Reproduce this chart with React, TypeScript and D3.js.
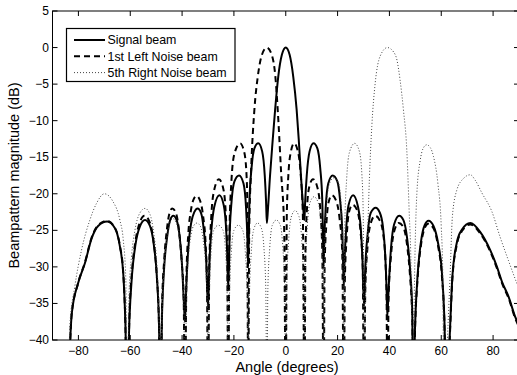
import React from 'react';
import * as d3 from 'd3';

// --- DATA (angle in degrees, magnitude in dB) ---
type Pt = [number, number];

const signalBeam: Pt[] = [
  [-83.6, -44], [-82.6, -36.5], [-80.1, -32.2], [-77.5, -29.5], [-74.9, -26.1], [-72.4, -24.4], [-68.9, -23.8], [-65.9, -24.7], [-64.0, -27.2], [-62.7, -30.9], [-61.9, -37.5],
  [-61.2, -48],
  [-60.3, -37], [-59.3, -31], [-58.0, -27], [-56.3, -24.5], [-54.3, -23.6], [-52.4, -24.4], [-50.9, -27], [-49.7, -31.5], [-48.9, -38],
  [-48.4, -48],
  [-47.7, -36], [-46.9, -30], [-45.8, -26], [-44.6, -23.6], [-43.4, -23.0], [-42.0, -23.7], [-40.9, -26], [-39.9, -30.5], [-39.3, -35],
  [-38.9, -37.5],
  [-38.3, -32], [-37.5, -27], [-36.5, -24], [-35.3, -22.5], [-34.0, -22.0], [-32.7, -22.6], [-31.6, -25], [-30.7, -29],
  [-30.0, -35.5],
  [-29.4, -29], [-28.7, -25], [-27.6, -21.8], [-25.6, -20.2], [-23.9, -21.6], [-22.9, -25.5], [-22.5, -29],
  [-22.2, -33],
  [-21.6, -25], [-20.9, -21], [-19.8, -18.3], [-18.0, -17.5], [-16.3, -18.6], [-15.3, -22], [-14.8, -26],
  [-14.5, -30],
  [-14.0, -21], [-13.2, -16.5], [-12.1, -13.8], [-10.6, -13.1], [-9.1, -14.2], [-8.1, -17.5], [-7.6, -21],
  [-7.3, -24],
  [-6.9, -22.3], [-6.1, -17.7], [-5.0, -12.5], [-4.1, -8.5], [-2.9, -4], [-1.5, -1], [0, 0], [1.5, -1], [2.9, -4], [4.2, -8.5], [5.0, -12.5], [5.9, -17.7], [6.8, -22.3],
  [7.2, -23.6],
  [7.5, -21], [8.1, -17.5], [9.2, -14.2], [10.7, -13.1], [12.2, -13.8], [13.3, -16.5], [14.1, -21],
  [14.6, -30],
  [14.9, -26], [15.4, -22], [16.4, -18.6], [18.1, -17.5], [19.9, -18.3], [21.0, -21], [21.8, -25],
  [22.4, -32.7],
  [22.7, -29], [23.2, -25.5], [24.2, -21.6], [26.0, -20.2], [27.9, -21.8], [29.0, -25], [29.6, -29],
  [30.2, -35.4],
  [30.7, -30], [31.6, -25.5], [32.8, -22.6], [34.7, -21.9], [36.2, -22.5], [37.5, -24.5], [38.4, -28.5], [38.9, -33],
  [39.2, -36.8],
  [39.7, -33], [40.6, -27.5], [41.8, -24.2], [43.8, -23.0], [45.4, -23.6], [46.8, -26], [48.0, -30.5], [48.8, -36],
  [49.2, -48],
  [49.9, -38], [50.9, -31], [52.2, -26.5], [53.6, -24.3], [55.1, -23.7], [57.0, -24.4], [58.8, -26.8], [60.2, -30.5], [61.2, -37],
  [62.0, -48],
  [63.2, -40], [64.3, -31.3], [66.0, -26.7], [68.0, -24.9], [71.2, -24.0], [75.0, -25.2], [78.9, -27.7], [81.5, -30], [83.4, -32], [86.0, -34.1], [88.5, -36.8], [90, -38],
];

const leftNoiseBeam: Pt[] = [
  [-83.6, -44], [-82.6, -36.5], [-80.1, -32.2], [-77.5, -29.4], [-74.9, -26.0], [-72.4, -24.3], [-69.0, -23.7], [-66.0, -24.6], [-64.0, -27.1], [-62.7, -30.8], [-61.9, -37.5],
  [-61.2, -50],
  [-60.3, -36.5], [-59.3, -30.5], [-58.0, -26.5], [-56.4, -24], [-54.5, -23.0], [-52.6, -23.8], [-51.0, -26.5], [-49.8, -31], [-48.9, -38],
  [-48.4, -50],
  [-47.7, -35], [-46.9, -29], [-45.9, -25], [-44.9, -22.7], [-43.8, -22.0], [-42.4, -22.6], [-41.2, -25], [-40.1, -29.5], [-39.4, -34],
  [-38.9, -50],
  [-38.3, -31], [-37.6, -25.5], [-36.6, -22.3], [-35.6, -20.8], [-34.4, -20.3], [-33.1, -20.9], [-31.9, -23], [-30.9, -27], [-30.4, -32],
  [-30.0, -50],
  [-29.5, -30], [-28.8, -23.5], [-27.8, -19.8], [-25.8, -18.0], [-24.1, -19.3], [-23.1, -23], [-22.6, -28],
  [-22.2, -50],
  [-21.7, -25], [-21.0, -18.5], [-19.8, -14.5], [-17.6, -13.1], [-15.9, -14.5], [-15.0, -18.5], [-14.8, -23],
  [-14.5, -50],
  [-14.1, -25], [-13.4, -17], [-12.1, -8.5], [-10.8, -4], [-9.2, -1], [-7.3, 0], [-5.4, -1], [-4.0, -4], [-3.1, -8.5], [-1.8, -17], [-0.6, -25],
  [0, -50],
  [0.4, -23], [1.0, -17.5], [2.0, -14.2], [3.2, -13.1], [4.7, -14.2], [5.8, -17.5], [6.6, -23],
  [7.2, -50],
  [7.6, -28], [8.2, -22], [9.1, -19], [10.5, -18.0], [12.1, -19], [13.3, -22], [14.1, -28],
  [14.6, -50],
  [15.0, -30], [15.7, -24], [16.5, -21.2], [17.8, -20.2], [19.5, -21], [20.8, -23.5], [21.8, -28],
  [22.4, -50],
  [22.8, -32], [23.5, -26], [24.4, -22.5], [25.8, -21.5], [27.6, -22.3], [28.8, -25], [29.7, -30],
  [30.2, -50],
  [30.7, -33], [31.5, -27.5], [32.8, -24], [34.5, -23.0], [36.2, -23.6], [37.6, -25.5], [38.5, -29.5], [38.9, -34],
  [39.2, -50],
  [39.7, -34], [40.6, -28.5], [41.8, -25.2], [43.6, -24.0], [45.3, -24.5], [46.8, -27], [48.0, -31.5], [48.8, -37],
  [49.2, -50],
  [49.9, -38.5], [50.9, -31.5], [52.2, -27], [53.6, -24.7], [55.0, -24.1], [57.0, -24.7], [58.8, -27.2], [60.2, -31], [61.2, -37.5],
  [62.0, -50],
  [63.2, -40.5], [64.3, -31.6], [66.0, -27], [68.0, -25.1], [71.2, -24.2], [75.0, -25.4], [78.9, -27.9], [81.5, -30.2], [83.4, -32.2], [86.0, -34.3], [88.5, -37], [90, -38.2],
];

const rightNoiseBeam: Pt[] = [
  [-83.7, -44], [-83.3, -38], [-81.4, -32.7], [-78.8, -27.7], [-75.6, -23.6], [-73.0, -21.3], [-70.0, -20.0], [-66.6, -21.1], [-64.0, -23.6], [-62.7, -26.3], [-61.7, -31.8],
  [-61.2, -50],
  [-60.5, -34], [-59.5, -28.5], [-58.2, -25], [-56.4, -22.7], [-54.3, -22.0], [-52.4, -22.8], [-50.9, -25.5], [-49.7, -30], [-48.9, -37],
  [-48.4, -50],
  [-47.7, -36], [-46.9, -30], [-45.8, -26], [-44.7, -24], [-43.6, -23.4], [-42.2, -24], [-41.0, -26.3], [-40.0, -30.5], [-39.3, -35.5],
  [-38.9, -50],
  [-38.3, -34], [-37.5, -28.5], [-36.5, -25.5], [-35.4, -24.3], [-34.3, -24.0], [-33.0, -24.4], [-31.8, -26.5], [-30.8, -30.5], [-30.3, -35],
  [-30.0, -50],
  [-29.5, -34], [-28.8, -28], [-27.8, -25], [-26.0, -24.3], [-24.2, -25], [-23.2, -28], [-22.6, -34],
  [-22.2, -50],
  [-21.7, -34], [-21.0, -28], [-20.0, -25], [-18.3, -24.3], [-16.6, -25], [-15.6, -28], [-14.9, -34],
  [-14.5, -50],
  [-14.0, -34], [-13.3, -28], [-12.3, -24.8], [-10.9, -24.0], [-9.4, -24.7], [-8.4, -27.5], [-7.7, -33],
  [-7.3, -50],
  [-6.9, -33], [-6.2, -27.5], [-5.2, -24.3], [-3.6, -23.6], [-2.1, -24.3], [-1.1, -27.5], [-0.4, -33],
  [0, -50],
  [0.4, -32], [1.1, -26.5], [2.1, -23.2], [3.6, -22.3], [5.1, -23.1], [6.1, -26], [6.8, -31.5],
  [7.2, -50],
  [7.6, -30], [8.3, -24.5], [9.3, -21.3], [10.9, -20.4], [12.5, -21.2], [13.5, -24], [14.2, -29.5],
  [14.6, -50],
  [15.0, -28], [15.7, -22], [16.7, -18.8], [18.6, -17.8], [20.4, -18.6], [21.4, -21.5], [22.0, -27],
  [22.4, -50],
  [22.8, -24], [23.5, -18], [24.6, -14.3], [26.6, -13.1], [28.4, -14.2], [29.4, -17.5], [29.9, -23],
  [30.3, -50],
  [30.6, -38], [31.5, -26.8], [32.3, -17.7], [33.2, -10.8], [34.5, -4.9], [36.4, -1.2], [39.2, 0], [41.6, -0.6], [42.9, -1.7], [44.1, -4.4], [45.4, -8.5], [46.7, -14], [47.6, -22.2], [48.4, -31.3],
  [48.8, -50],
  [49.4, -38], [50.0, -26], [50.6, -19.9], [51.9, -15.4], [53.0, -13.8], [54.4, -13.3], [55.8, -13.7], [57.0, -14.9], [58.7, -18.6], [60.0, -24.5], [60.6, -31.3],
  [61.0, -50],
  [62.6, -38], [63.4, -31.3], [64.3, -23.1], [66.0, -19.5], [68.6, -17.9], [71.2, -17.4], [73.2, -18.2], [75.7, -19.9], [79.5, -22.4], [82.7, -25.9], [85.9, -29.1], [88.9, -32], [90, -33],
];

const xTicks = [-80, -60, -40, -20, 0, 20, 40, 60, 80];
const yTicks = [-40, -35, -30, -25, -20, -15, -10, -5, 0, 5];

const legendLabels = ['Signal beam', '1st Left Noise beam', '5th Right Noise beam'];

const W = 517;
const H = 375;
const M = { left: 52.5, right: 519, top: 11, bottom: 340 };
const FONT = '"Liberation Sans", Arial, Helvetica, sans-serif';

const fmt = (v: number) => (v < 0 ? '\u2212' + Math.abs(v) : String(v));

export default function App() {
  const x = d3.scaleLinear().domain([-90, 90]).range([M.left, M.right]);
  const y = d3.scaleLinear().domain([-40, 5]).range([M.bottom, M.top]);

  const line = d3.line<Pt>()
    .x(d => x(d[0]))
    .y(d => y(d[1]))
    .curve(d3.curveMonotoneX);

  const series = [
    { data: signalBeam, stroke: '#000', width: 2, dash: undefined as string | undefined },
    { data: leftNoiseBeam, stroke: '#000', width: 2, dash: '6 4' },
    { data: rightNoiseBeam, stroke: '#444', width: 1, dash: '1 2' },
  ];

  const tick = 5;

  return (
    <svg width={W} height={H} style={{ position: 'absolute', left: 0, top: 0, background: '#fff' }} fontFamily={FONT}>
      <defs>
        <clipPath id="plot-clip">
          <rect x={M.left} y={M.top} width={M.right - M.left} height={M.bottom - M.top} />
        </clipPath>
      </defs>

      <rect x={0} y={0} width={W} height={H} fill="#fff" />

      {/* curves */}
      <g clipPath="url(#plot-clip)" fill="none" strokeLinejoin="round">
        {series.map((s, i) => (
          <path key={i} d={line(s.data) || ''} stroke={s.stroke} strokeWidth={s.width} strokeDasharray={s.dash} />
        ))}
      </g>

      {/* box + ticks */}
      <rect x={M.left} y={M.top} width={M.right - M.left} height={M.bottom - M.top} fill="none" stroke="#000" strokeWidth={1} />
      {xTicks.map(t => (
        <g key={'x' + t}>
          <line x1={x(t)} x2={x(t)} y1={M.bottom} y2={M.bottom - tick} stroke="#000" />
          <line x1={x(t)} x2={x(t)} y1={M.top} y2={M.top + tick} stroke="#000" />
          <text x={x(t)} y={354.5} textAnchor="middle" fontSize={12}>{fmt(t)}</text>
        </g>
      ))}
      {yTicks.map(t => (
        <g key={'y' + t}>
          <line x1={M.left} x2={M.left + tick} y1={y(t)} y2={y(t)} stroke="#000" />
          <line x1={M.right} x2={M.right - tick} y1={y(t)} y2={y(t)} stroke="#000" />
          <text x={49} y={y(t) + 4} textAnchor="end" fontSize={12}>{fmt(t)}</text>
        </g>
      ))}

      {/* axis labels */}
      <text x={287} y={372} textAnchor="middle" fontSize={14.5}>Angle (degrees)</text>
      <text transform={`translate(19,${(M.top + M.bottom) / 2}) rotate(-90)`} textAnchor="middle" fontSize={14.5}>
        Beampattern magnitude (dB)
      </text>

      {/* legend */}
      <g>
        <rect x={66.5} y={28.5} width={168.5} height={53} fill="#fff" stroke="#000" strokeWidth={1.2} />
        {legendLabels.map((lab, i) => {
          const ly = 40 + i * 16.3;
          const s = series[i];
          return (
            <g key={lab}>
              <line x1={74} x2={105} y1={ly} y2={ly} stroke={s.stroke} strokeWidth={s.width} strokeDasharray={s.dash} />
              <text x={107.5} y={ly + 4.3} fontSize={12.4}>{lab}</text>
            </g>
          );
        })}
      </g>
    </svg>
  );
}
